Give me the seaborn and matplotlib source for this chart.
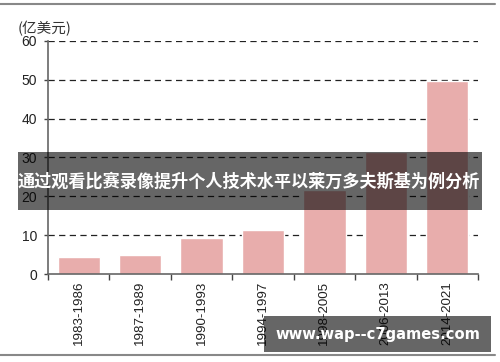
import matplotlib
matplotlib.use("Agg")
import matplotlib.pyplot as plt
import numpy as np
import pandas as pd
import seaborn as sns
from matplotlib.patches import Rectangle
from matplotlib.lines import Line2D

# data
periods = ["1983-1986", "1987-1989", "1990-1993", "1994-1997",
           "1998-2005", "2006-2013", "2014-2021"]
values = [4.4, 4.9, 9.2, 11.3, 21.6, 31.3, 49.7]
yticks = [0, 10, 20, 30, 40, 50, 60]
unit_label = "(亿美元)"
banner_text = "通过观看比赛录像提升个人技术水平以莱万多夫斯基为例分析"
watermark = "www.wap--c7games.com"

df = pd.DataFrame({"period": periods, "value": values})

sns.set_style("white")
plt.rcParams["font.family"] = ["Liberation Sans", "Noto Sans CJK SC", "DejaVu Sans"]

fig = plt.figure(figsize=(5, 3.62), dpi=100)
ax = fig.add_axes([0.096, 0.243, 0.86, 0.644])

sns.barplot(data=df, x="period", y="value", color="#E8ADAC", saturation=1,
            width=0.69, ax=ax, zorder=2)

ax.set_ylim(0, 60)
ax.set_xlim(-0.5, len(periods) - 0.5)
ax.set_yticks(yticks)
ax.set_xlabel("")
ax.set_ylabel("")
for y in yticks[1:]:
    ax.axhline(y, color="#222222", lw=0.9, ls=(0, (5, 3.5)), zorder=1)

for s in ["top", "right"]:
    ax.spines[s].set_visible(False)
for s in ["left", "bottom"]:
    ax.spines[s].set_color("#666666")
    ax.spines[s].set_linewidth(1.2)

ax.set_xticks(np.arange(len(periods)))
ax.set_xticklabels(periods, rotation=90, fontsize=9.6, color="#222222")
ax.tick_params(axis="x", which="major", length=0, pad=5)
ax.set_xticks(np.arange(len(periods) + 1) - 0.5, minor=True)
ax.tick_params(axis="x", which="minor", length=4, width=1, color="#444444",
               direction="out", bottom=True)
ax.tick_params(axis="y", length=3, width=1, color="#444444", direction="out",
               left=True, labelsize=10, labelcolor="#222222", pad=5)

fig.text(0.036, 1 - 33 / 362, unit_label, fontsize=10.5, color="#333333",
         family=["Noto Sans CJK SC"], style="italic", va="baseline")

# frame lines top and bottom
fig.add_artist(Line2D([0, 0.99], [1 - 4 / 362] * 2, color="#888888", lw=1.5))
fig.add_artist(Line2D([0, 0.99], [1 - 355 / 362] * 2, color="#888888", lw=1.5))

# overlays
fig.add_artist(Rectangle((18 / 500, 1 - 210 / 362), 464 / 500, 58 / 362,
                         transform=fig.transFigure, color="black", alpha=0.6,
                         lw=0, zorder=5))
fig.text(0.498, 1 - 182 / 362, banner_text, fontsize=12.3, color="white",
         weight="bold", ha="center", va="center",
         family=["Noto Sans CJK SC"], zorder=6)
fig.add_artist(Rectangle((264 / 500, 1 - 352 / 362), 227 / 500, 36 / 362,
                         transform=fig.transFigure, color="black", alpha=0.6,
                         lw=0, zorder=5))
fig.text(377.5 / 500, 1 - 334 / 362, watermark, fontsize=10.6, color="white",
         weight="bold", ha="center", va="center",
         family=["DejaVu Sans"], zorder=6)

fig.savefig("out.png", dpi=100)
